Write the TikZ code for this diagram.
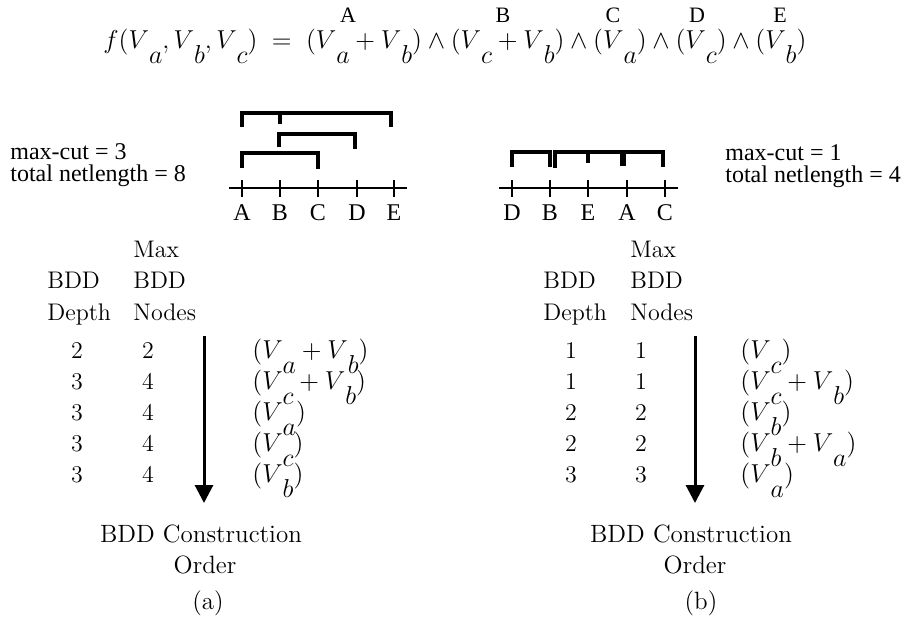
\documentclass[tikz,border=0pt]{standalone}
\usepackage{fontspec}
\newfontfamily\timesfont{Liberation Serif}
\usetikzlibrary{arrows.meta}
\newcommand{\Vx}[1]{V\lower7pt\hbox{$#1$}}
\begin{document}
\begin{tikzpicture}[x=0.5pt,y=-0.5pt,
  lm/.style={font=\fontsize{12}{14}\selectfont, inner sep=0pt},
  lmb/.style={font=\fontsize{12.5}{15}\selectfont, inner sep=0pt},
  mth/.style={font=\fontsize{12}{14}\selectfont, inner sep=0pt, scale=1.08},
  tm/.style={font=\timesfont\fontsize{12}{14}\selectfont, inner sep=0pt},
  tms/.style={font=\timesfont\fontsize{11}{13}\selectfont, inner sep=0pt},
  axisline/.style={line width=1.3pt},
  tickline/.style={line width=0.9pt},
  net/.style={line width=1.6pt},
  flow/.style={line width=1.5pt, -{Triangle[width=9pt,length=9pt]}}]
\useasboundingbox (0,0) rectangle (902,623);

% clause labels
\node[tms, anchor=base] (tA) at (348,22) {A};
\node[tms, anchor=base] (tB) at (503,22) {B};
\node[tms, anchor=base] (tC) at (613,22) {C};
\node[tms, anchor=base] (tD) at (697,22) {D};
\node[tms, anchor=base] (tE) at (780,22) {E};

% formula
\node[mth, anchor=base west] (fx) at (103,48)
 {$f(\Vx a, \Vx b, \Vx c) \;=\; (\Vx a + \Vx b) \wedge (\Vx c + \Vx b) \wedge (\Vx a) \wedge (\Vx c) \wedge (\Vx b)$};

% left placement
\node[tm, anchor=base west] (mc1) at (10,159) {max-cut = 3};
\node[tm, anchor=base west] (tn1) at (10,181) {total netlength = 8};
\draw[axisline] (229,188) -- (407,188);
\foreach \x/\l in {242/A,280/B,318/C,357/D,394/E}{
  \draw[tickline] (\x,180) -- (\x,197);
  \node[tm, anchor=base] (L\l) at (\x,220) {\l};
}
\draw[net] (242,127) -- (242,113) -- (391,113) -- (391,127);
\draw[net] (280,113) -- (280,124);
\draw[net] (279,147) -- (279,134) -- (355,134) -- (355,149);
\draw[net] (242,168) -- (242,153) -- (318,153) -- (318,169);

% right placement
\node[tm, anchor=base west] (mc2) at (725,160) {max-cut = 1};
\node[tm, anchor=base west] (tn2) at (725,182) {total netlength = 4};
\draw[axisline] (499,188) -- (678,188);
\foreach \x/\l in {512/D,550/B,588/E,627/A,665/C}{
  \draw[tickline] (\x,180) -- (\x,197);
  \node[tm, anchor=base] (R\l) at (\x,220) {\l};
}
\draw[net] (512,167) -- (512,152) -- (550,152) -- (550,167);
\draw[net] (555,168) -- (555,152) -- (622,152) -- (622,166);
\draw[net] (588,152) -- (588,163);
\draw[net] (624,166) -- (624,152) -- (663,152) -- (663,167);

% left table
\node[lm, anchor=base west] (lh1) at (133,257) {Max};
\node[lm, anchor=base west] (lh2) at (47,288) {BDD};
\node[lm, anchor=base west] (lh3) at (133,288) {BDD};
\node[lm, anchor=base west] (lh4) at (47,320) {Depth};
\node[lm, anchor=base west] (lh5) at (133,320) {Nodes};
\foreach \y/\d/\n/\e [count=\i] in {358/2/2/{$(\Vx a + \Vx b)$},389/3/4/{$(\Vx c + \Vx b)$},420/3/4/{$(\Vx a)$},451/3/4/{$(\Vx c)$},482/3/4/{$(\Vx b)$}}{
  \node[lm, anchor=base] (ld\i) at (77,\y) {\d};
  \node[lm, anchor=base] (ln\i) at (148,\y) {\n};
  \node[mth, anchor=base west] (le\i) at (252,\y) {\e};
}
\coordinate (la1) at (204,336);
\coordinate (la2) at (204,503);
\draw[flow] (la1) -- (la2);
\node[lmb, anchor=base] (lc1) at (201,542) {BDD Construction};
\node[lmb, anchor=base] (lc2) at (205,573) {Order};
\node[lmb, anchor=base] (lc3) at (208,609) {(a)};

% right table
\node[lm, anchor=base west] (rh1) at (630,257) {Max};
\node[lm, anchor=base west] (rh2) at (543,288) {BDD};
\node[lm, anchor=base west] (rh3) at (630,288) {BDD};
\node[lm, anchor=base west] (rh4) at (543,320) {Depth};
\node[lm, anchor=base west] (rh5) at (630,320) {Nodes};
\foreach \y/\d/\n/\e [count=\i] in {358/1/1/{$(\Vx c)$},389/1/1/{$(\Vx c + \Vx b)$},420/2/2/{$(\Vx b)$},451/2/2/{$(\Vx b + \Vx a)$},482/3/3/{$(\Vx a)$}}{
  \node[lm, anchor=base] (rd\i) at (571,\y) {\d};
  \node[lm, anchor=base] (rn\i) at (641,\y) {\n};
  \node[mth, anchor=base west] (re\i) at (740,\y) {\e};
}
\coordinate (ra1) at (695,336);
\coordinate (ra2) at (695,503);
\draw[flow] (ra1) -- (ra2);
\node[lmb, anchor=base] (rc1) at (691,542) {BDD Construction};
\node[lmb, anchor=base] (rc2) at (695,573) {Order};
\node[lmb, anchor=base] (rc3) at (701,609) {(b)};
\end{tikzpicture}
\end{document}
